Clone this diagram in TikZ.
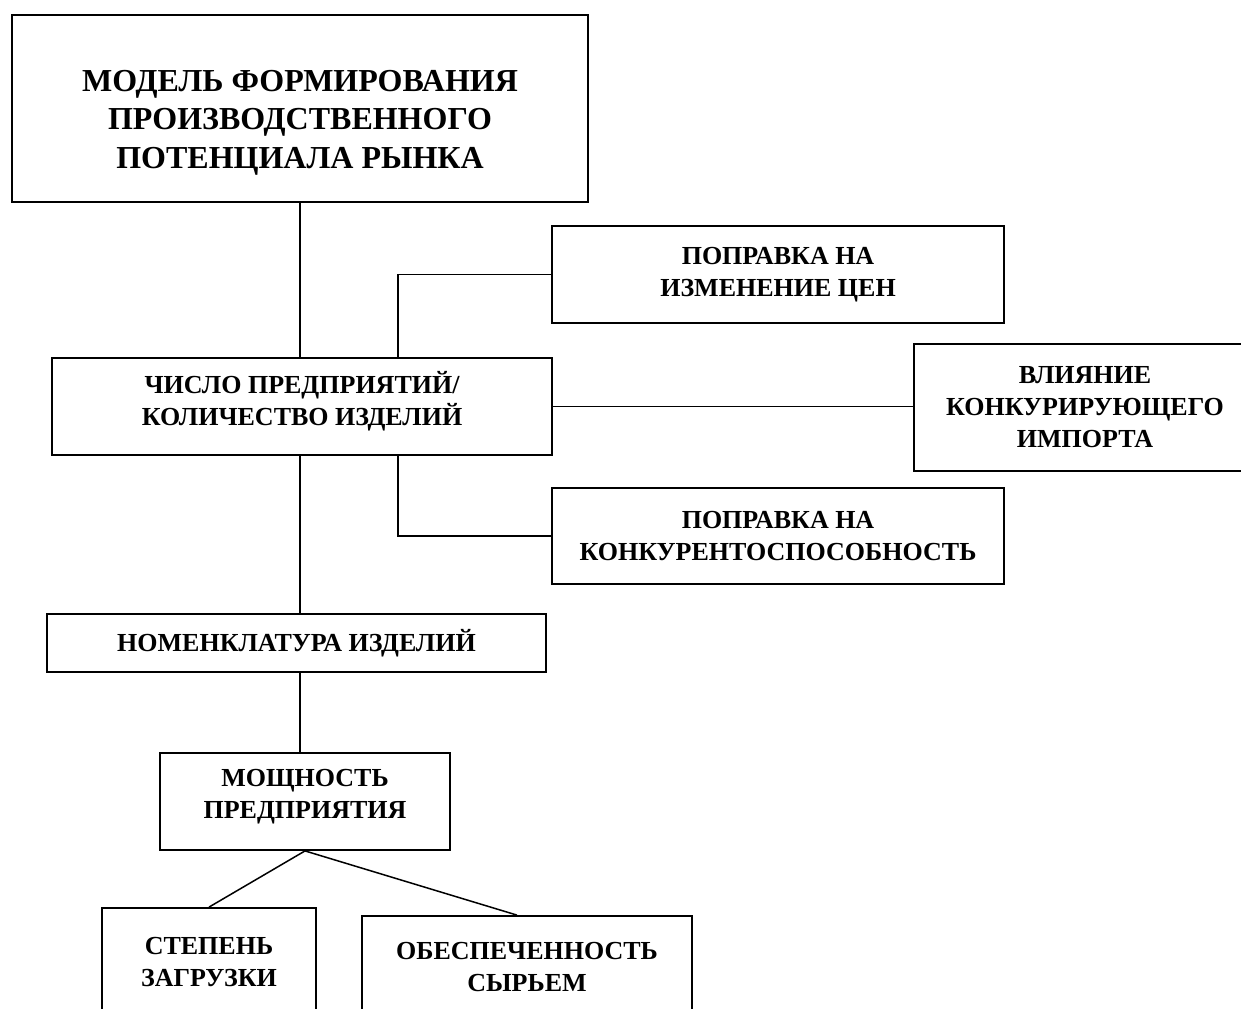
\documentclass[tikz,border=0pt]{standalone}
\usepackage{fontspec}
\setmainfont{Liberation Serif}

\begin{document}
\begin{tikzpicture}[x=0.5pt, y=-0.5pt,
    block/.style={draw, line width=0.9pt, inner sep=0pt, align=center,
        font=\fontsize{13}{16}\selectfont\bfseries},
    blocktext/.style={align=center, inner sep=0pt,
        font=\fontsize{13}{16}\selectfont\bfseries},
    link/.style={line width=0.75pt}]
    % Page frame
    \useasboundingbox (0,0) rectangle (1241,1008);
    \clip (0,0) rectangle (1241,1008);

    % Boxes
    \node[block, minimum width=288pt, minimum height=93.5pt,
        label={[name=modeltext, blocktext, yshift=-7pt,
            font=\fontsize{16}{19.25}\selectfont\bfseries]center:МОДЕЛЬ ФОРМИРОВАНИЯ\\ПРОИЗВОДСТВЕННОГО\\ПОТЕНЦИАЛА РЫНКА}]
        (model) at (300,108.5) {};
    \node[block, minimum width=250pt, minimum height=48.5pt,
        label={[name=numbertext, blocktext, yshift=2.5pt]center:ЧИСЛО ПРЕДПРИЯТИЙ/\\КОЛИЧЕСТВО ИЗДЕЛИЙ}]
        (number) at (302,406.5) {};
    \node[block, minimum width=226pt, minimum height=48.5pt] (prices) at (778,274.5)
        {ПОПРАВКА НА\\ИЗМЕНЕНИЕ ЦЕН};
    \node[block, minimum width=171pt, minimum height=63.5pt] (imports) at (1085,407.5)
        {ВЛИЯНИЕ\\КОНКУРИРУЮЩЕГО\\ИМПОРТА};
    \node[block, minimum width=226pt, minimum height=48pt] (compet) at (778,536)
        {ПОПРАВКА НА\\КОНКУРЕНТОСПОСОБНОСТЬ};
    \node[block, minimum width=249.5pt, minimum height=29pt] (nomen) at (296.5,643)
        {НОМЕНКЛАТУРА ИЗДЕЛИЙ};
    \node[block, minimum width=145pt, minimum height=48.5pt,
        label={[name=capacitytext, blocktext, yshift=2.5pt]center:МОЩНОСТЬ\\ПРЕДПРИЯТИЯ}]
        (capacity) at (305,801.5) {};
    \node[block, minimum width=107pt, minimum height=53.5pt] (load) at (209,961.5)
        {СТЕПЕНЬ\\ЗАГРУЗКИ};
    \node[block, minimum width=165pt, minimum height=51pt] (supply) at (527,967)
        {ОБЕСПЕЧЕННОСТЬ\\СЫРЬЕМ};

    % Elbow column
    \coordinate (elbow) at (398,0);

    % Connectors
    \draw[link] (model.south) -- (model.south |- number.north);
    \draw[link] (number.north -| elbow) |- (prices.west);
    \draw[link] (number.east) -- (imports.west |- number.east);
    \draw[link] (number.south -| elbow) |- (compet.west);
    \draw[link] (model.south |- number.south) -- (model.south |- nomen.north);
    \draw[link] (model.south |- nomen.south) -- (model.south |- capacity.north);
    \draw[link] (capacity.south) -- (load.north);
    \draw[link] (capacity.south) -- ([xshift=-5pt]supply.north);
\end{tikzpicture}
\end{document}
